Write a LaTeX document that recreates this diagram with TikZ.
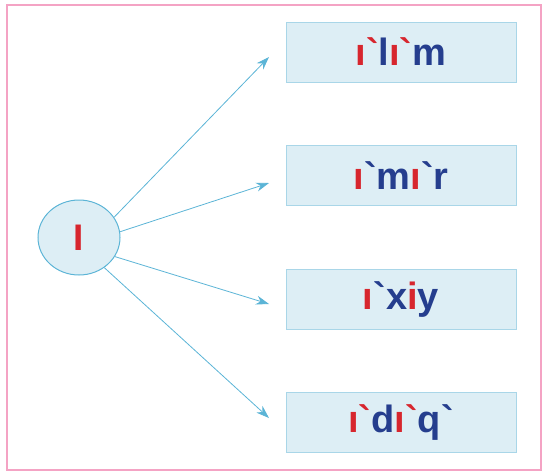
\documentclass[tikz,border=0pt]{standalone}
\usepackage{fontspec}
\setmainfont{Liberation Sans}
\usetikzlibrary{arrows.meta,shapes.geometric}
\definecolor{frame}{HTML}{F4A3C4}
\definecolor{boxfill}{HTML}{DDEEF5}
\definecolor{boxline}{HTML}{A9D6E8}
\definecolor{arr}{HTML}{5BB4D6}
\definecolor{tred}{HTML}{D7262E}
\definecolor{tblue}{HTML}{253E8E}
\newcommand{\R}[1]{\textcolor{tred}{#1}}
\newcommand{\B}[1]{\textcolor{tblue}{#1}}
\newcommand{\gr}{\textasciigrave}
\begin{document}
\begin{tikzpicture}[x=1pt,y=-1pt,
  wordbox/.style={draw=boxline,line width=1pt,fill=boxfill,minimum width=230pt,minimum height=60pt,inner sep=0pt,
    font=\fontsize{38}{38}\selectfont\bfseries,text=tblue},
  rootnode/.style={ellipse,draw=arr,line width=1pt,fill=boxfill,minimum width=82pt,minimum height=75pt,inner sep=0pt,
    font=\fontsize{37}{37}\selectfont\bfseries,text=tred},
  link/.style={draw=arr,line width=0.8pt,-{Stealth[length=13pt,width=9pt]}}]
\useasboundingbox (0,0) rectangle (545,475);
\draw[frame,line width=2pt] (7,5) rectangle (541,470);
\node[rootnode] (root) at (79,237.5) {I};
\node[wordbox] (w1) at (401,52) {\R{ı\gr}\B{l}\R{ı\gr}\B{m}};
\node[wordbox] (w2) at (401,175.5) {\R{ı}\B{\gr m}\R{ı}\B{\gr r}};
\node[wordbox] (w3) at (401,299) {\R{ı}\B{\gr x}\R{i}\B{y}};
\node[wordbox] (w4) at (401,422) {\R{ı\gr}\B{d}\R{ı\gr}\B{q\gr}};
\coordinate (e1) at (269,57);
\coordinate (e2) at (269,183);
\coordinate (e3) at (269,304);
\coordinate (e4) at (269,418);
\draw[link] (root.30) -- (e1);
\draw[link] (root.8) -- (e2);
\draw[link] (root.-28) -- (e3);
\draw[link] (root.-50) -- (e4);
\end{tikzpicture}
\end{document}
